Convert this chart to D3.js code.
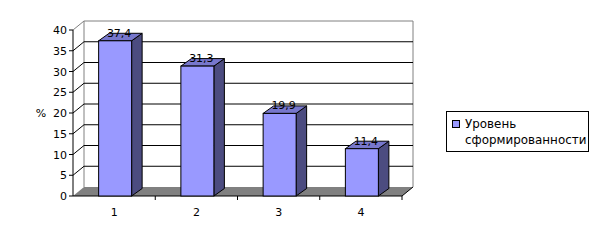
<!DOCTYPE html>
<html>
<head>
<meta charset="utf-8">
<script src="https://cdn.jsdelivr.net/npm/d3@7"></script>
<style>
  body { margin: 0; background: #fff; }
  text { font-family: "DejaVu Sans", sans-serif; font-size: 11px; fill: #000; }
  .legend text { font-size: 11.9px; }
</style>
</head>
<body>
<div id="chart"></div>
<script>
const categories = ["1", "2", "3", "4"];
const values = [37.4, 31.3, 19.9, 11.4];
const yTicks = [0, 5, 10, 15, 20, 25, 30, 35, 40];
const seriesName = ["Уровень", "сформированности"];
const yLabel = "%";

const width = 598, height = 243;
const wall = { dx: 11, dy: -9 };
const bar = { dx: 10.5, dy: -7.5 };

const svg = d3.select("#chart").append("svg")
  .attr("width", width)
  .attr("height", height);

const x = d3.scaleBand().domain(categories).range([73, 402]);
const y = d3.scaleLinear().domain([0, 40]).range([196, 30]);
const barW = 33;
const fmt = (v) => v.toFixed(1).replace(".", ",");

// back wall
svg.append("path")
  .attr("d", `M${73 + wall.dx},${y(0) + wall.dy}V${y(40) + wall.dy}H${402 + wall.dx}V${y(0) + wall.dy}`)
  .attr("fill", "none")
  .attr("stroke", "#808080");

// gridlines: left wall diagonal + back wall horizontal
const grid = yTicks.filter((t) => t > 0 && t < 40);
svg.selectAll(".grid")
  .data(grid)
  .enter()
  .append("path")
  .attr("d", (d) => `M73,${y(d)}L${73 + wall.dx},${y(d) + wall.dy}H${402 + wall.dx}`)
  .attr("fill", "none")
  .attr("stroke", "#000");
svg.append("line")
  .attr("x1", 73).attr("y1", y(40))
  .attr("x2", 73 + wall.dx).attr("y2", y(40) + wall.dy)
  .attr("stroke", "#808080");

// floor
svg.append("path")
  .attr("d", `M73,${y(0)}L${73 + wall.dx},${y(0) + wall.dy}H${402 + wall.dx}L402,${y(0)}Z`)
  .attr("fill", "#808080")
  .attr("stroke", "none");

// y axis
svg.append("line")
  .attr("x1", 73).attr("y1", y(40))
  .attr("x2", 73).attr("y2", y(0))
  .attr("stroke", "#000");
svg.selectAll(".ytick")
  .data(yTicks)
  .enter()
  .append("line")
  .attr("x1", 69).attr("x2", 73)
  .attr("y1", (d) => y(d)).attr("y2", (d) => y(d))
  .attr("stroke", "#000");
svg.selectAll(".ylab")
  .data(yTicks)
  .enter()
  .append("text")
  .attr("x", 67)
  .attr("y", (d) => y(d) + 4)
  .attr("text-anchor", "end")
  .text((d) => d);
svg.append("text")
  .attr("x", 41)
  .attr("y", 117)
  .attr("text-anchor", "middle")
  .text(yLabel);

// x axis
svg.append("line")
  .attr("x1", 73).attr("y1", y(0))
  .attr("x2", 402).attr("y2", y(0))
  .attr("stroke", "#000");
svg.append("line")
  .attr("x1", 402).attr("y1", y(0))
  .attr("x2", 402 + wall.dx).attr("y2", y(0) + wall.dy)
  .attr("stroke", "#000");
svg.selectAll(".xtick")
  .data(categories)
  .enter()
  .append("line")
  .attr("x1", (d) => x(d) + x.bandwidth())
  .attr("x2", (d) => x(d) + x.bandwidth())
  .attr("y1", y(0)).attr("y2", y(0) + 4)
  .attr("stroke", "#000");
svg.selectAll(".xlab")
  .data(categories)
  .enter()
  .append("text")
  .attr("x", (d) => x(d) + x.bandwidth() / 2)
  .attr("y", 216)
  .attr("text-anchor", "middle")
  .text((d) => d);

// bars
const data = categories.map((c, i) => ({ c, v: values[i] }));
const g = svg.selectAll(".bar").data(data).enter().append("g");
const bx = (d) => x(d.c) + x.bandwidth() / 2 + 1 - barW / 2;

g.append("path")
  .attr("d", (d) => `M${bx(d) + barW},${y(0)}L${bx(d) + barW + bar.dx},${y(0) + bar.dy}V${y(d.v) + bar.dy}L${bx(d) + barW},${y(d.v)}Z`)
  .attr("fill", "#4c4c80")
  .attr("stroke", "#000");
g.append("path")
  .attr("d", (d) => `M${bx(d)},${y(d.v)}L${bx(d) + bar.dx},${y(d.v) + bar.dy}H${bx(d) + barW + bar.dx}L${bx(d) + barW},${y(d.v)}Z`)
  .attr("fill", "#7777cc")
  .attr("stroke", "#000");
g.append("rect")
  .attr("x", bx)
  .attr("y", (d) => y(d.v))
  .attr("width", barW)
  .attr("height", (d) => y(0) - y(d.v))
  .attr("fill", "#9999ff")
  .attr("stroke", "#000");
g.append("text")
  .attr("x", (d) => bx(d) + barW / 2 + 4)
  .attr("y", (d) => y(d.v) - 4)
  .attr("text-anchor", "middle")
  .text((d) => fmt(d.v));

// legend
const lg = svg.append("g").attr("class", "legend");
lg.append("rect")
  .attr("x", 446.5).attr("y", 111.5)
  .attr("width", 142).attr("height", 40)
  .attr("fill", "#fff")
  .attr("stroke", "#000");
lg.append("rect")
  .attr("x", 452.5).attr("y", 120.5)
  .attr("width", 7).attr("height", 7)
  .attr("fill", "#9999ff")
  .attr("stroke", "#000");
lg.selectAll(".ltext")
  .data(seriesName)
  .enter()
  .append("text")
  .attr("x", 465)
  .attr("y", (d, i) => 128 + i * 15.5)
  .text((d) => d);
</script>
</body>
</html>
